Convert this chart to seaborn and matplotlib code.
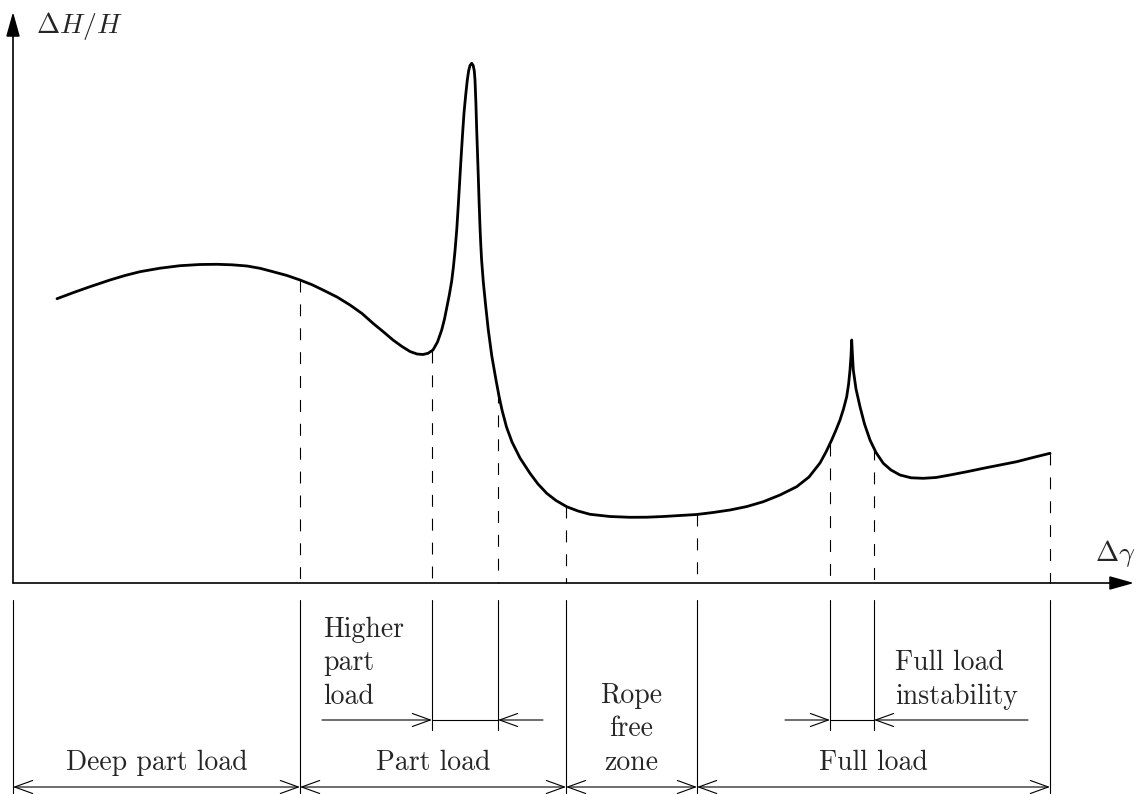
import numpy as np
import pandas as pd
import matplotlib
matplotlib.use("Agg")
import matplotlib.pyplot as plt
from matplotlib.patches import FancyArrowPatch
import seaborn as sns

# Pressure fluctuation amplitude dH/H versus load deviation (schematic, arbitrary units)
gamma = [44, 62, 77, 97, 112, 127, 147, 167, 187, 204,
         219, 234, 247, 260, 274, 287, 299, 310, 324, 337,
         349, 360, 370, 380, 389, 397, 404, 410, 415, 420,
         424.5, 428.7, 431.5, 433.7, 436.3, 438.7, 440.4, 442, 443.8, 445.3,
         446.7, 448, 449.5, 451, 452.7, 454.3, 455.6, 457, 458.7, 460.2,
         461.3, 462, 462.9, 463.7, 464.5, 465.3, 466.1, 467, 467.8, 468.6,
         470.3, 472.6, 475.3, 478.8, 483, 486, 489, 493.5, 499, 507,
         517, 525, 533.7, 543, 553.7, 565, 577, 597, 617, 634,
         650.3, 667, 683.7, 700, 717, 734, 750.3, 767, 783.7, 796,
         807, 813, 818.7, 823, 827, 830.5, 833.7, 835.6, 837, 838,
         838.7, 839.5, 840.3, 843, 847, 851.5, 857, 863, 870.3, 878,
         887, 898, 910.3, 923, 937, 954, 970.3, 987, 1003.7, 1020,
         1037]
dh = [284.3, 291, 296.3, 303, 307.5, 311.3, 314.8, 317.3, 318.5, 318.7,
      318.2, 317, 314.7, 311.3, 307.5, 303, 298.3, 293, 286, 278,
      269.5, 259.7, 251.5, 243, 236.5, 231.5, 229, 228.5, 229.7, 233,
      241, 253, 264, 275, 288, 302, 316, 332, 354, 378,
      402, 424, 448, 470, 488, 503, 512, 517.5, 519.7, 517.5,
      512, 503, 480, 453, 430, 406.3, 381, 356, 338, 323,
      301, 278, 253, 227, 203, 187, 173, 156, 141, 125,
      109.7, 99, 89.7, 82.5, 76.3, 72, 68.7, 66.5, 65.7, 65.8,
      66.5, 67.5, 68.5, 70.5, 73, 76.5, 81.3, 88, 96.3, 106,
      120, 131, 143, 153, 163, 174, 186.3, 199, 213, 227,
      243, 227, 213, 194, 176.3, 159, 143, 130.5, 119.7, 113,
      108, 105.2, 104.7, 105.5, 108, 111.3, 114.7, 118, 121.3, 125.5,
      129.7]

# Regime boundaries along the load axis
boundaries = [0, 287, 419, 485, 553, 684, 817, 861, 1037]

# Main operating regimes
regime_labels = ["Deep part load", "Part load", "Rope\nfree\nzone", "Full load"]
regime_start = [0, 287, 553, 684]
regime_end = [287, 553, 684, 1037]

# Narrow sub-regimes
sub_labels = ["Higher\npart\nload", "Full load\ninstability"]
sub_start = [419, 817]
sub_end = [485, 861]

x_label = r"$\Delta\gamma$"
y_label = r"$\Delta H/H$"

sns.set_theme(style="white")
plt.rcParams["font.family"] = ["cmr10", "DejaVu Serif"]
plt.rcParams["mathtext.fontset"] = "cm"
plt.rcParams["lines.scale_dashes"] = False
plt.rcParams["axes.unicode_minus"] = False

FS = 20
LINE_GAP = 33.5

fig = plt.figure(figsize=(11.38, 7.94), dpi=100)
ax = fig.add_axes([0, 0, 1, 1])
ax.set_xlim(-13, 1125)
ax.set_ylim(-211, 583)
ax.axis("off")

# Curve
df = pd.DataFrame({"gamma": gamma, "dh": dh})
sns.lineplot(data=df, x="gamma", y="dh", sort=False, estimator=None,
             color="black", lw=2.0, ax=ax)
ax.set_xlabel("")
ax.set_ylabel("")

# Coordinate axes with filled arrow heads
axis_style = "-|>,head_length=1.5,head_width=0.42"
for end in [(1121, 0), (0, 571)]:
    ax.add_patch(FancyArrowPatch((0, 0), end, arrowstyle=axis_style,
                                 mutation_scale=10, color="black", lw=1.2,
                                 shrinkA=0, shrinkB=0, zorder=3))
ax.text(1082, 22, x_label, fontsize=FS, ha="left", va="baseline")
ax.text(23, 550, y_label, fontsize=FS, ha="left", va="baseline")

# Dashed drop lines from the curve to the load axis
for b in boundaries[1:]:
    top = np.interp(b, gamma, dh)
    ax.plot([b, b], [top, 0], color="black", lw=0.8,
            linestyle=(0, (8.6, 8.6)))

# Solid extension lines below the axis
inner = set(sub_start + sub_end)
for b in boundaries:
    bottom = -147 if b in inner else -211
    ax.plot([b, b], [-17, bottom], color="black", lw=0.8)

open_style = "->,head_length=1.3,head_width=0.47"
both_style = "<->,head_length=1.3,head_width=0.47"

# Main regime dimension arrows and labels
dim_y = -204
for lab, s, e in zip(regime_labels, regime_start, regime_end):
    ax.add_patch(FancyArrowPatch((s, dim_y), (e, dim_y), arrowstyle=both_style,
                                 mutation_scale=10, color="black", lw=0.8,
                                 shrinkA=0, shrinkB=0))
    lines = lab.split("\n")
    n = len(lines)
    for i, ln in enumerate(lines):
        ax.text((s + e) / 2, -187 + (n - 1 - i) * LINE_GAP, ln, fontsize=FS,
                ha="center", va="baseline")

# Sub-regime arrows pointing inwards, with labels
sub_y = -137
sub_outer_left = [309, 772]
sub_outer_right = [530, 1015]
sub_text_x = [310, 882]
sub_text_last = [-121, -121]
for lab, s, e, ol, orr, tx, tb in zip(sub_labels, sub_start, sub_end,
                                      sub_outer_left, sub_outer_right,
                                      sub_text_x, sub_text_last):
    ax.add_patch(FancyArrowPatch((ol, sub_y), (s, sub_y), arrowstyle=open_style,
                                 mutation_scale=10, color="black", lw=0.8,
                                 shrinkA=0, shrinkB=0))
    ax.add_patch(FancyArrowPatch((orr, sub_y), (e, sub_y), arrowstyle=open_style,
                                 mutation_scale=10, color="black", lw=0.8,
                                 shrinkA=0, shrinkB=0))
    ax.plot([s, e], [sub_y, sub_y], color="black", lw=0.8)
    lines = lab.split("\n")
    n = len(lines)
    for i, ln in enumerate(lines):
        ax.text(tx, tb + (n - 1 - i) * LINE_GAP, ln, fontsize=FS,
                ha="left", va="baseline")

fig.savefig("out.png", dpi=100, facecolor="white")
